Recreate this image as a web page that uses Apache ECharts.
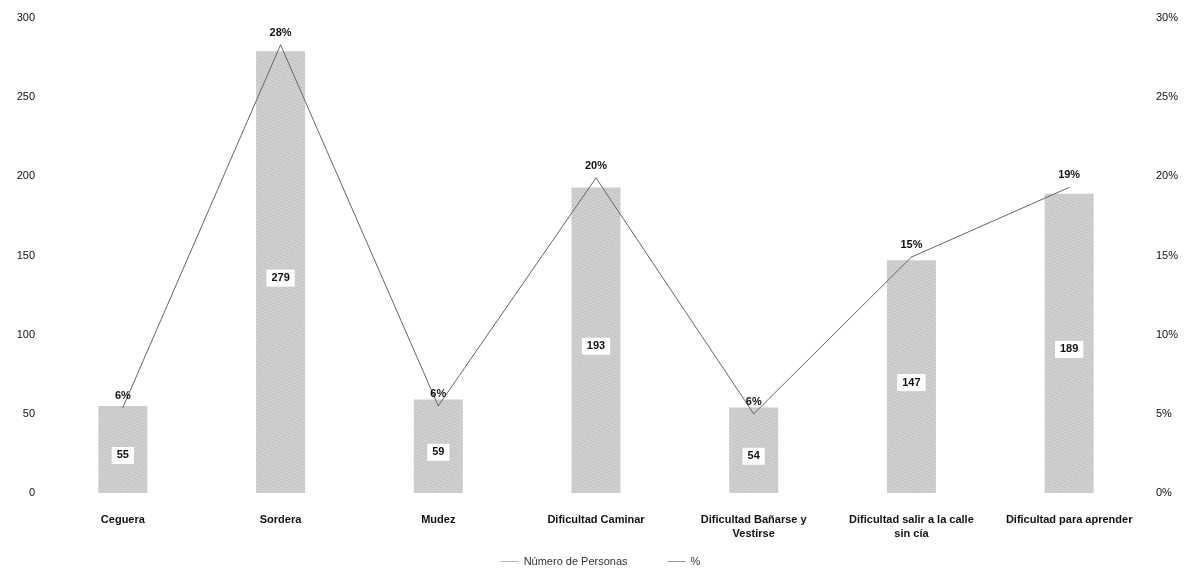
<!DOCTYPE html>
<html>
<head>
<meta charset="utf-8">
<script src="https://cdn.jsdelivr.net/npm/echarts@6/dist/echarts.min.js"></script>
<style>
  html, body { margin: 0; padding: 0; background: #fff; }
  #chart { width: 1201px; height: 582px; }
</style>
</head>
<body>
<div id="chart"></div>
<script>
// categorias del eje x
var categorias = ['Ceguera', 'Sordera', 'Mudez', 'Dificultad Caminar',
  'Dificultad Bañarse y\nVestirse', 'Dificultad salir a la calle\nsin cía', 'Dificultad para aprender'];
// numero de personas (barras)
var personas = [55, 279, 59, 193, 54, 147, 189];
// porcentaje (linea, eje derecho)
var porcentaje = [5.4, 28.3, 5.5, 19.9, 5.0, 14.9, 19.3];
// etiquetas mostradas sobre la linea
var etiquetasPct = ['6%', '28%', '6%', '20%', '6%', '15%', '19%'];

var myChart = echarts.init(document.getElementById('chart'));

var option = {
  backgroundColor: '#fff',
  textStyle: { fontFamily: 'Liberation Sans, Arial, sans-serif' },
  grid: { left: 44, right: 53, top: 18, bottom: 89 },
  legend: {
    bottom: 10,
    left: 'center',
    itemGap: 40,
    itemWidth: 18,
    itemHeight: 1,
    textStyle: { fontSize: 11, color: '#333' },
    data: [
      { name: 'Número de Personas', icon: 'rect', itemStyle: { color: '#bbb' } },
      { name: '%', icon: 'rect', itemStyle: { color: '#999' } }
    ]
  },
  xAxis: {
    type: 'category',
    data: categorias,
    axisLine: { show: false },
    axisTick: { show: false },
    axisLabel: {
      interval: 0,
      margin: 20,
      fontSize: 11,
      fontWeight: 'bold',
      color: '#111',
      lineHeight: 14
    }
  },
  yAxis: [
    {
      type: 'value',
      min: 0, max: 300, interval: 50,
      splitLine: { show: false },
      axisLine: { show: false },
      axisTick: { show: false },
      axisLabel: { fontSize: 11, color: '#111', margin: 9 }
    },
    {
      type: 'value',
      min: 0, max: 30, interval: 5,
      position: 'right',
      splitLine: { show: false },
      axisLine: { show: false },
      axisTick: { show: false },
      axisLabel: { fontSize: 11, color: '#111', margin: 8, formatter: '{value}%' }
    }
  ],
  series: [
    {
      name: 'Número de Personas',
      type: 'bar',
      data: personas,
      barWidth: 49,
      itemStyle: {
        color: '#d0d0d0',
        decal: {
          symbol: 'circle',
          symbolSize: 0.5,
          color: 'rgba(60,60,60,0.45)',
          dashArrayX: [1, 0],
          dashArrayY: [3, 0],
          rotation: 0.4
        }
      },
      label: {
        show: true,
        position: 'inside',
        offset: [0, 6],
        fontSize: 11,
        fontWeight: 'bold',
        color: '#111',
        backgroundColor: '#fff',
        padding: [3, 5]
      }
    },
    {
      name: '%',
      type: 'line',
      yAxisIndex: 1,
      data: porcentaje,
      symbol: 'circle',
      symbolSize: 1,
      showSymbol: true,
      lineStyle: { color: '#666', width: 1 },
      itemStyle: { color: '#666' },
      label: {
        show: true,
        position: 'top',
        distance: 6,
        fontSize: 11,
        fontWeight: 'bold',
        color: '#111',
        formatter: function (p) { return etiquetasPct[p.dataIndex]; }
      }
    }
  ]
};

myChart.setOption(option);
</script>
</body>
</html>
